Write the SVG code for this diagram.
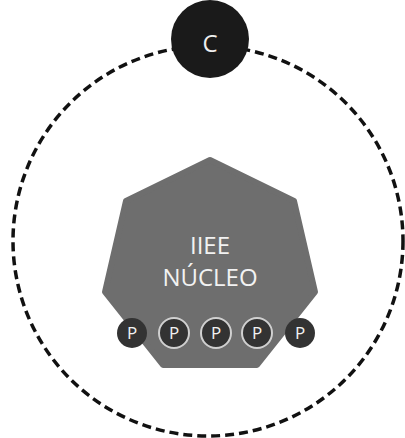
<svg xmlns="http://www.w3.org/2000/svg" width="405" height="438" viewBox="0 0 405 438">
<style>
.lbl{font-family:"Open Sans","Liberation Sans",sans-serif;fill:#f2f2f2;text-anchor:middle}
.p{fill:#333}
.pr{fill:#333;stroke:#d0d0d0;stroke-width:2}
.pt{font-family:"Open Sans","Liberation Sans",sans-serif;font-size:17px;fill:#f2f2f2;text-anchor:middle}
</style>
<rect width="405" height="438" fill="#fff"/>
<g id="connectors">
<circle cx="208" cy="241" r="195" fill="none" stroke="#111" stroke-width="3.5" stroke-dasharray="9 5"/>
</g>
<g id="core">
<polygon points="210,160 294,201 315,292 257,365 163,365 105,292 126,201" fill="#6e6e6e" stroke="#6e6e6e" stroke-width="6" stroke-linejoin="round"/>
<text class="lbl" x="210" y="254" font-size="24">IIEE</text>
<text class="lbl" x="210" y="286" font-size="24">NÚCLEO</text>
</g>
<g id="c">
<circle cx="210" cy="39" r="39" fill="#1a1a1a"/>
<text x="210" y="52" font-family="Open Sans, Liberation Sans, sans-serif" font-size="24" fill="#eee" text-anchor="middle">C</text>
</g>
<g id="p1"><circle class="p" cx="132" cy="333" r="15"/><text class="pt" x="132" y="339">P</text></g>
<g id="p2"><circle class="pr" cx="174" cy="333" r="15"/><text class="pt" x="174" y="339">P</text></g>
<g id="p3"><circle class="pr" cx="216" cy="333" r="15"/><text class="pt" x="216" y="339">P</text></g>
<g id="p4"><circle class="pr" cx="257" cy="333" r="15"/><text class="pt" x="257" y="339">P</text></g>
<g id="p5"><circle class="p" cx="300" cy="333" r="15"/><text class="pt" x="300" y="339">P</text></g>
</svg>
